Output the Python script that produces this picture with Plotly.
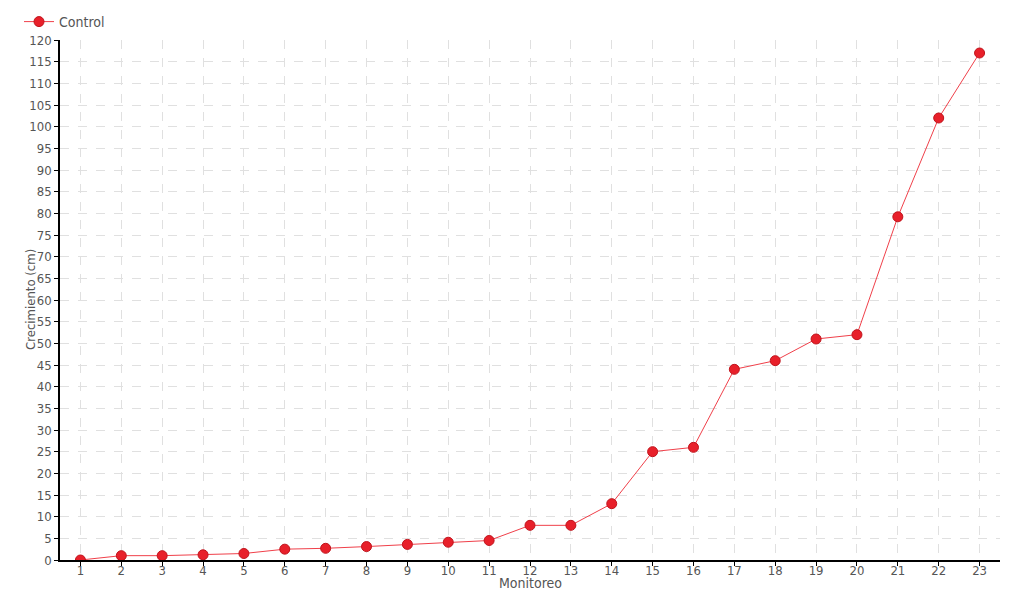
import plotly.graph_objects as go

monitoreo = [str(i) for i in range(1, 24)]
crecimiento = [0, 1, 1, 1.2, 1.5, 2.5, 2.7, 3.1, 3.6, 4.1, 4.5, 8, 8, 13, 25, 26, 44, 46, 51, 52, 79.2, 102, 117]
y_ticks = list(range(0, 121, 5))

font_family = "DejaVu Sans Condensed, Liberation Sans Narrow, sans-serif"
text_color = "#555555"
red = "#e8202a"

# page body has an 8px default margin, so the figure is shifted by 8px
L, R, T, B = 52, 28, 32, 48
PW, PH = 1020 - L - R, 600 - T - B

fig = go.Figure()
fig.add_trace(go.Scatter(
    x=monitoreo, y=crecimiento, name="Control", mode="lines+markers",
    line=dict(color="#f0404a", width=1),
    marker=dict(color=red, size=10, line=dict(color="#c0141c", width=1)),
))

fig.update_layout(
    width=1020, height=600,
    margin=dict(l=L, r=R, t=T, b=B, autoexpand=False),
    paper_bgcolor="white", plot_bgcolor="white",
    font=dict(family=font_family, size=13, color=text_color),
    showlegend=True,
    legend=dict(x=-41 / PW, y=1 + 18 / PH, xref="paper", yref="paper",
                xanchor="left", yanchor="middle", bgcolor="rgba(0,0,0,0)",
                font=dict(size=14, color=text_color, family=font_family)),
    xaxis=dict(
        type="category", range=[-0.5, 22.5], automargin=False,
        showline=True, linecolor="black", linewidth=1.5,
        ticks="outside", ticklen=4, tickcolor="black", ticklabelstandoff=-6,
        showgrid=True, gridcolor="#e0e0e0", griddash="dash", gridwidth=1,
        zeroline=False,
    ),
    yaxis=dict(
        range=[0, 120], tickvals=y_ticks, automargin=False,
        showline=True, linecolor="black", linewidth=1.5,
        ticks="outside", ticklen=4, tickcolor="black",
        showgrid=True, gridcolor="#e0e0e0", griddash="dash", gridwidth=1,
        zeroline=False,
    ),
    annotations=[
        dict(text="Monitoreo", xref="paper", yref="paper", x=0.5, y=-23 / PH,
             xanchor="center", yanchor="middle", showarrow=False,
             font=dict(size=14, color=text_color, family=font_family)),
        dict(text="Crecimiento (cm)", xref="paper", yref="paper", x=-30 / PW, y=0.5,
             xanchor="center", yanchor="middle", textangle=-90, showarrow=False,
             font=dict(size=13, color=text_color, family=font_family)),
    ],
)

fig.write_html("out.html")
